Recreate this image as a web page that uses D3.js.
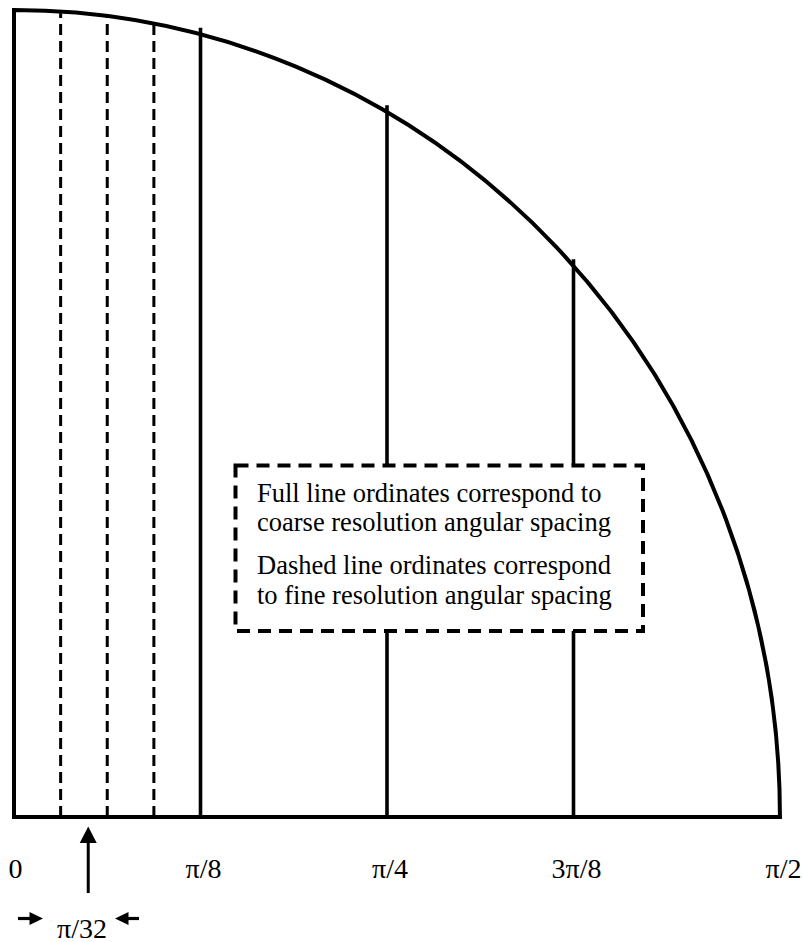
<!DOCTYPE html>
<html>
<head>
<meta charset="utf-8">
<script src="https://cdn.jsdelivr.net/npm/d3@7"></script>
<style>
  html, body { margin: 0; padding: 0; background: #fff; }
  svg { display: block; }
  text { font-family: "Liberation Serif", "Times New Roman", serif; fill: #000; }
</style>
</head>
<body>
<div id="chart"></div>
<script>
// ---- data (angles in units of π/8) ----
const tickLabels   = ["0", "π/8", "π/4", "3π/8", "π/2"];
const tickAngles   = [0, 1, 2, 3, 4.11];          // π/2 label sits at the arc's end as drawn
const arcEndAngle  = 4.107;                        // where the drawn arc meets the base line
const coarseAngles = [1, 2, 3];                    // full-line ordinates (π/8 spacing)
const coarseHeights = [0.978, 0.882, 0.691];       // ordinate tops (fraction of radius)
const fineAngles   = [0.25, 0.5, 0.75];            // dashed ordinates (π/32 spacing)
const fineHeights  = [0.996, 0.992, 0.982];
const arrowAngle   = 0.398;                        // π/32 pointer arrow
const spacingLabel = "π/32";
const legendLines  = [
  "Full line ordinates correspond to",
  "coarse resolution angular spacing",
  "Dashed line ordinates correspond",
  "to fine resolution angular spacing"
];

const W = 803, H = 942;
const svg = d3.select("#chart").append("svg")
  .attr("width", W).attr("height", H)
  .attr("viewBox", `0 0 ${W} ${H}`);

svg.append("rect").attr("width", W).attr("height", H).attr("fill", "#fff");

const x = d3.scaleLinear().domain([0, 1]).range([14, 200.5]);
const y = d3.scaleLinear().domain([0, 1]).range([817, 10]);

// ---- ordinates ----
const fine = svg.append("g");
fineAngles.forEach((a, i) => {
  fine.append("line")
    .attr("x1", x(a)).attr("x2", x(a))
    .attr("y1", y(0)).attr("y2", y(fineHeights[i]))
    .attr("stroke", "#000").attr("stroke-width", 3)
    .attr("stroke-dasharray", "11,6");
});

const coarse = svg.append("g");
coarseAngles.forEach((a, i) => {
  coarse.append("line")
    .attr("x1", x(a)).attr("x2", x(a))
    .attr("y1", y(0)).attr("y2", y(coarseHeights[i]))
    .attr("stroke", "#000").attr("stroke-width", 3.6);
});

// ---- quarter arc + frame ----
const rx = x(arcEndAngle) - x(0);
const ry = y(0) - y(1);
svg.append("path")
  .attr("d", `M${x(0)},${y(0)} L${x(0)},${y(1)} A${rx},${ry} 0 0 1 ${x(arcEndAngle)},${y(0)} Z`)
  .attr("fill", "none").attr("stroke", "#000").attr("stroke-width", 4)
  .attr("stroke-linejoin", "miter");

// ---- legend box ----
const box = { x0: 235.5, y0: 465.5, x1: 643, y1: 631 };
svg.append("rect")
  .attr("x", box.x0).attr("y", box.y0)
  .attr("width", box.x1 - box.x0).attr("height", box.y1 - box.y0)
  .attr("fill", "#fff").attr("stroke", "#000").attr("stroke-width", 4)
  .attr("stroke-dasharray", "13,8");

const baselines = [501.7, 531, 574, 604];
svg.append("g").selectAll("text").data(legendLines).join("text")
  .attr("x", 257).attr("y", (d, i) => baselines[i])
  .attr("font-size", 26.5)
  .text(d => d);

// ---- axis labels ----
svg.append("g").selectAll("text").data(tickLabels).join("text")
  .attr("x", (d, i) => x(tickAngles[i]) + (i === 0 ? 1.5 : 3))
  .attr("y", 878)
  .attr("text-anchor", "middle")
  .attr("font-size", 28)
  .text(d => d);

// ---- π/32 pointer ----
const ax = x(arrowAngle);
svg.append("line")
  .attr("x1", ax).attr("x2", ax).attr("y1", 893).attr("y2", 840)
  .attr("stroke", "#000").attr("stroke-width", 3);
svg.append("path")
  .attr("d", `M${ax},826.5 L${ax - 8.5},843 L${ax + 8.5},843 Z`)
  .attr("fill", "#000");

// horizontal spacing arrows (pointing inward to the π/32 gap)
const hy = 918.5;
svg.append("line").attr("x1", 18).attr("x2", 32).attr("y1", hy).attr("y2", hy)
  .attr("stroke", "#000").attr("stroke-width", 3.2);
svg.append("path").attr("d", `M43,${hy} L29.5,${hy - 6.5} L29.5,${hy + 6.5} Z`).attr("fill", "#000");
svg.append("line").attr("x1", 126).attr("x2", 139).attr("y1", hy).attr("y2", hy)
  .attr("stroke", "#000").attr("stroke-width", 3.2);
svg.append("path").attr("d", `M115,${hy} L128.5,${hy - 6.5} L128.5,${hy + 6.5} Z`).attr("fill", "#000");

svg.append("text")
  .attr("x", 82).attr("y", 937.5)
  .attr("text-anchor", "middle")
  .attr("font-size", 28)
  .text(spacingLabel);
</script>
</body>
</html>
